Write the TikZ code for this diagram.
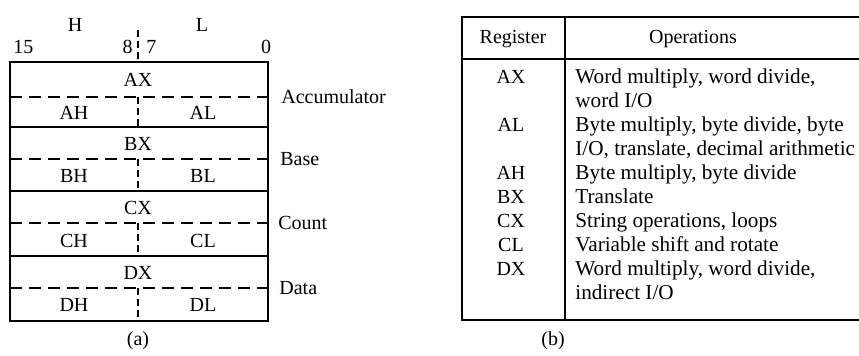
\documentclass[tikz,border=0pt]{standalone}
\usepackage{fontspec}
\setmainfont{Liberation Serif}
\usetikzlibrary{positioning}
\tikzset{
  regframe/.style={line width=0.9pt},
  halfline/.style={line width=0.6pt, dash pattern=on 6pt off 3.5pt},
  bitline/.style={line width=0.6pt, dash pattern=on 3.5pt off 2pt},
  regname/.style={font=\normalsize, inner sep=0pt, anchor=base},
  sidename/.style={font=\normalsize, inner sep=0pt, anchor=base west},
  tabrule/.style={line width=1pt},
  tabsep/.style={line width=0.8pt},
  optext/.style={font=\fontsize{10.6}{12}\selectfont, inner sep=0pt, anchor=base west},
}

\begin{document}
\begin{tikzpicture}[x=0.5pt, y=-0.5pt]
  \useasboundingbox (0,0) rectangle (859,356);

  % (a) register file
  \node[regname] (hi) at (75,32) {H};
  \node[regname] (lo) at (202,32) {L};
  \node[sidename] (b15) at (13,54) {15};
  \node[regname, anchor=base east] (b8) at (133,54) {8};
  \node[sidename] (b7) at (146,54) {7};
  \node[regname] (b0) at (266,54) {0};
  \draw[bitline] (138,30) -- (138,62);

  \draw[regframe] (10,62) rectangle (268,321);
  \draw[regframe] (10,127) -- (268,127);
  \draw[regframe] (10,191) -- (268,191);
  \draw[regframe] (10,256) -- (268,256);

  \draw[halfline] (10,97) -- (268,97);
  \draw[halfline] (10,159) -- (268,159);
  \draw[halfline] (10,223) -- (268,223);
  \draw[halfline] (10,288) -- (268,288);
  \draw[bitline] (138,97) -- (138,127);
  \draw[bitline] (138,159) -- (138,191);
  \draw[bitline] (138,223) -- (138,256);
  \draw[bitline] (138,288) -- (138,321);

  \node[regname] (ax) at (138,86.5) {AX};
  \node[regname] (ah) at (74,119.5) {AH};
  \node[regname] (al) at (203,119.5) {AL};
  \node[regname] (bx) at (138,150.5) {BX};
  \node[regname] (bh) at (74,183) {BH};
  \node[regname] (bl) at (203,183) {BL};
  \node[regname] (cx) at (138,215) {CX};
  \node[regname] (ch) at (74,247.5) {CH};
  \node[regname] (cl) at (203,247.5) {CL};
  \node[regname] (dx) at (138,279.5) {DX};
  \node[regname] (dh) at (74,312) {DH};
  \node[regname] (dl) at (203,312) {DL};

  \node[sidename] (acc) at (281,103.5) {Accumulator};
  \node[sidename] (base) at (280,165.5) {Base};
  \node[sidename] (count) at (278,229.5) {Count};
  \node[sidename] (data) at (279,294.5) {Data};

  \node[regname] (capa) at (138,346) {(a)};

  % (b) table of register uses
  \draw[tabrule] (859,17) -- (462,17) -- (462,320) -- (859,320);
  \draw[tabsep] (462,59) -- (859,59);
  \draw[tabsep] (565,17) -- (565,320);

  \node[regname] (hreg) at (513,44) {Register};
  \node[regname] (hops) at (693,44) {Operations};

  \node[regname] (rax) at (511,84) {AX};
  \node[regname] (ral) at (511,132) {AL};
  \node[regname] (rah) at (511,180) {AH};
  \node[regname] (rbx) at (511,204) {BX};
  \node[regname] (rcx) at (511,228) {CX};
  \node[regname] (rcl) at (511,252) {CL};
  \node[regname] (rdx) at (511,276) {DX};

  \node[optext] (oax) at (575,84) {Word multiply, word divide,};
  \node[optext] (oax2) at (575,108) {word I/O};
  \node[optext] (oal) at (575,132) {Byte multiply, byte divide, byte};
  \node[optext] (oal2) at (575,156) {I/O, translate, decimal arithmetic};
  \node[optext] (oah) at (575,180) {Byte multiply, byte divide};
  \node[optext] (obx) at (575,204) {Translate};
  \node[optext] (ocx) at (575,228) {String operations, loops};
  \node[optext] (ocl) at (575,252) {Variable shift and rotate};
  \node[optext] (odx) at (575,276) {Word multiply, word divide,};
  \node[optext] (odx2) at (575,300) {indirect I/O};

  \node[regname] (capb) at (553,346) {(b)};
\end{tikzpicture}
\end{document}
